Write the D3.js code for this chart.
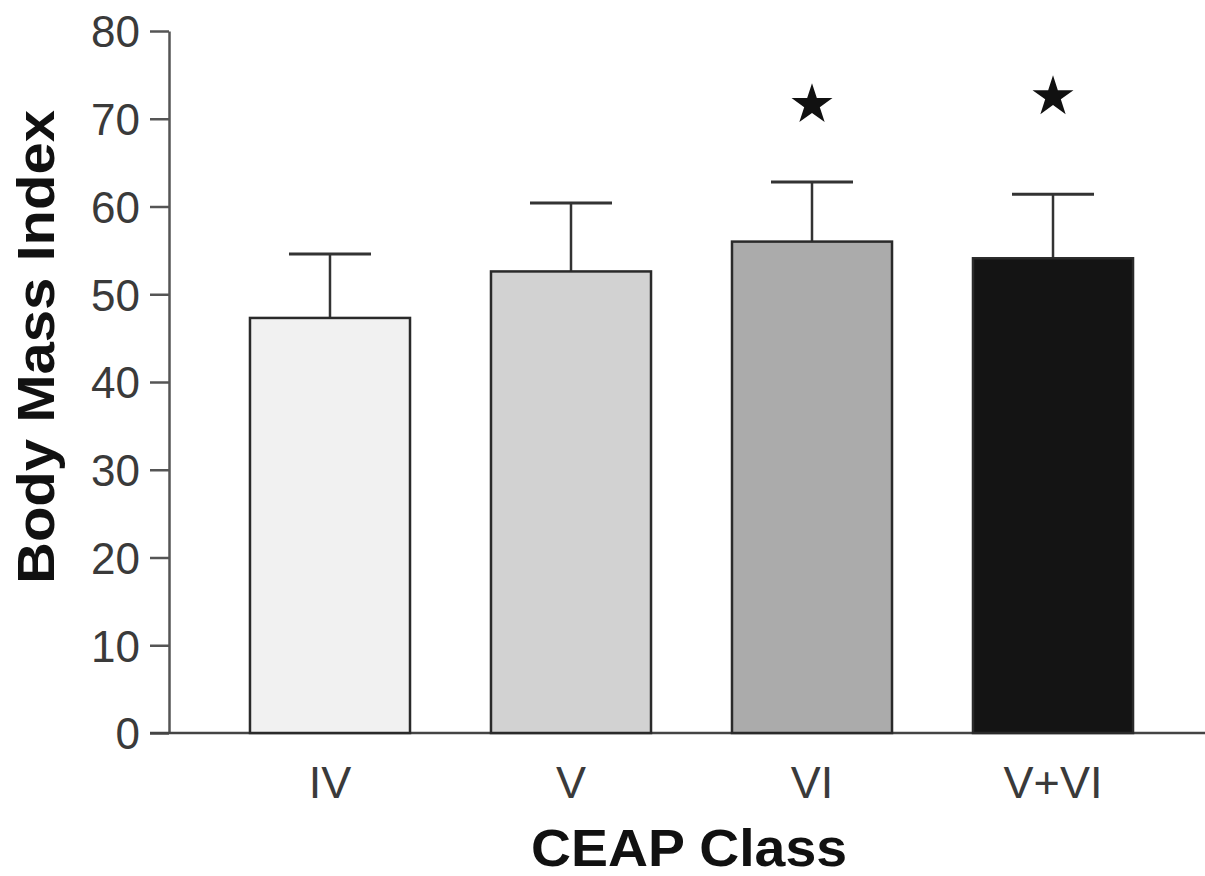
<!DOCTYPE html>
<html>
<head>
<meta charset="utf-8">
<script src="https://cdn.jsdelivr.net/npm/d3@7"></script>
<style>
  body { margin: 0; background: #fff; }
  svg { display: block; font-family: 'Liberation Sans', Arial, sans-serif; }
</style>
</head>
<body>
<div id="chart"></div>
<script>
let categories = ['IV', 'V', 'VI', 'V+VI']
let means = [47.3, 52.6, 56.0, 54.1]
let upper = [54.6, 60.4, 62.8, 61.4]
// star marks: category and the height (in BMI units) where the star sits
let starCategories = ['VI', 'V+VI']
let starLevels = [71.6, 72.5]
let fills = ['#f1f1f1', '#d2d2d2', '#ababab', '#141414']
let yTicks = [0, 10, 20, 30, 40, 50, 60, 70, 80]

let width = 1205,
  height = 876

let svg = d3.select('#chart')
  .append('svg')
  .attr('width', width)
  .attr('height', height)

let x = d3.scaleBand()
  .domain(categories)
  .range([169, 1214])
  .paddingInner(0.336)
  .paddingOuter(0.336)

let y = d3.scaleLinear()
  .domain([0, 80])
  .range([733, 31])

// y axis
let yAxis = svg.append('g')
  .attr('transform', 'translate(169,0)')
  .call(d3.axisLeft(y).tickValues(yTicks).tickSize(19).tickSizeOuter(0).tickPadding(10))

yAxis.select('.domain').attr('stroke', '#555').attr('stroke-width', 2.5)
yAxis.selectAll('.tick line').attr('stroke', '#555').attr('stroke-width', 2.5)
yAxis.selectAll('.tick text')
  .attr('fill', '#3a3a3a')
  .style('font-size', '44px')
  .attr('dy', '0.36em')

// baseline
svg.append('line')
  .attr('x1', 150)
  .attr('x2', width)
  .attr('y1', y(0))
  .attr('y2', y(0))
  .attr('stroke', '#444')
  .attr('stroke-width', 2.5)

// error bars (upper only)
let err = svg.selectAll('.err')
  .data(categories)
  .enter().append('g')
  .attr('class', 'err')

err.append('line')
  .attr('x1', d => x(d) + x.bandwidth() / 2)
  .attr('x2', d => x(d) + x.bandwidth() / 2)
  .attr('y1', (d, i) => y(means[i]))
  .attr('y2', (d, i) => y(upper[i]))
  .attr('stroke', '#333')
  .attr('stroke-width', 2.5)

err.append('line')
  .attr('x1', d => x(d) + x.bandwidth() / 2 - 41)
  .attr('x2', d => x(d) + x.bandwidth() / 2 + 41)
  .attr('y1', (d, i) => y(upper[i]))
  .attr('y2', (d, i) => y(upper[i]))
  .attr('stroke', '#333')
  .attr('stroke-width', 3)

// bars
svg.selectAll('.bar')
  .data(categories)
  .enter().append('rect')
  .attr('class', 'bar')
  .attr('x', d => x(d))
  .attr('width', x.bandwidth())
  .attr('y', (d, i) => y(means[i]))
  .attr('height', (d, i) => y(0) - y(means[i]))
  .attr('fill', (d, i) => fills[i])
  .attr('stroke', '#2a2a2a')
  .attr('stroke-width', 2.5)

// significance stars
let star = d3.symbol().type(d3.symbolStar).size(520)
svg.selectAll('.star')
  .data(starCategories)
  .enter().append('path')
  .attr('class', 'star')
  .attr('d', star)
  .attr('transform', (d, i) => 'translate(' + (x(d) + x.bandwidth() / 2) + ',' + y(starLevels[i]) + ')')
  .attr('fill', '#111')

// x labels
svg.selectAll('.xlabel')
  .data(categories)
  .enter().append('text')
  .attr('class', 'xlabel')
  .attr('x', d => x(d) + x.bandwidth() / 2)
  .attr('y', 798)
  .attr('text-anchor', 'middle')
  .attr('fill', '#3a3a3a')
  .style('font-size', '45px')
  .text(d => d)

// axis titles
svg.append('text')
  .attr('x', 689)
  .attr('y', 866)
  .attr('text-anchor', 'middle')
  .attr('textLength', 316)
  .attr('lengthAdjust', 'spacingAndGlyphs')
  .style('font-size', '51px')
  .style('font-weight', 'bold')
  .attr('fill', '#111')
  .text('CEAP Class')

svg.append('text')
  .attr('transform', 'translate(54,347) rotate(-90)')
  .attr('text-anchor', 'middle')
  .attr('textLength', 474)
  .attr('lengthAdjust', 'spacingAndGlyphs')
  .style('font-size', '51px')
  .style('font-weight', 'bold')
  .attr('fill', '#111')
  .text('Body Mass Index')
</script>
</body>
</html>
